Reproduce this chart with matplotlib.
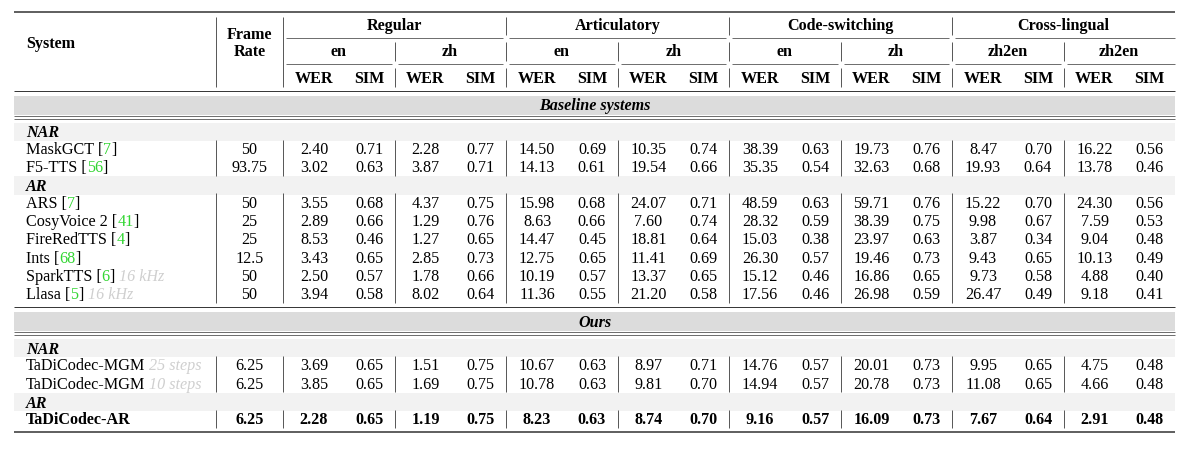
import matplotlib
matplotlib.use('Agg')
import matplotlib.pyplot as plt

plt.rcParams['font.family'] = ['Liberation Serif', 'DejaVu Serif']

# ---- table content ----
groups = ['Regular', 'Articulatory', 'Code-switching', 'Cross-lingual']
langs = ['en', 'zh', 'en', 'zh', 'en', 'zh', 'zh2en', 'zh2en']
metrics = ['WER', 'SIM']

base_nar_names = ['MaskGCT', 'F5-TTS']
base_nar_refs = ['7', '56']
base_nar_notes = ['', '']
base_nar_fr = [50, 93.75]
base_nar_vals = [
    [2.40, 0.71, 2.28, 0.77, 14.50, 0.69, 10.35, 0.74, 38.39, 0.63, 19.73, 0.76, 8.47, 0.70, 16.22, 0.56],
    [3.02, 0.63, 3.87, 0.71, 14.13, 0.61, 19.54, 0.66, 35.35, 0.54, 32.63, 0.68, 19.93, 0.64, 13.78, 0.46],
]

base_ar_names = ['ARS', 'CosyVoice 2', 'FireRedTTS', 'Ints', 'SparkTTS', 'Llasa']
base_ar_refs = ['7', '41', '4', '68', '6', '5']
base_ar_notes = ['', '', '', '', '16 kHz', '16 kHz']
base_ar_fr = [50, 25, 25, 12.5, 50, 50]
base_ar_vals = [
    [3.55, 0.68, 4.37, 0.75, 15.98, 0.68, 24.07, 0.71, 48.59, 0.63, 59.71, 0.76, 15.22, 0.70, 24.30, 0.56],
    [2.89, 0.66, 1.29, 0.76, 8.63, 0.66, 7.60, 0.74, 28.32, 0.59, 38.39, 0.75, 9.98, 0.67, 7.59, 0.53],
    [8.53, 0.46, 1.27, 0.65, 14.47, 0.45, 18.81, 0.64, 15.03, 0.38, 23.97, 0.63, 3.87, 0.34, 9.04, 0.48],
    [3.43, 0.65, 2.85, 0.73, 12.75, 0.65, 11.41, 0.69, 26.30, 0.57, 19.46, 0.73, 9.43, 0.65, 10.13, 0.49],
    [2.50, 0.57, 1.78, 0.66, 10.19, 0.57, 13.37, 0.65, 15.12, 0.46, 16.86, 0.65, 9.73, 0.58, 4.88, 0.40],
    [3.94, 0.58, 8.02, 0.64, 11.36, 0.55, 21.20, 0.58, 17.56, 0.46, 26.98, 0.59, 26.47, 0.49, 9.18, 0.41],
]

ours_nar_names = ['TaDiCodec-MGM', 'TaDiCodec-MGM']
ours_nar_refs = ['', '']
ours_nar_notes = ['25 steps', '10 steps']
ours_nar_fr = [6.25, 6.25]
ours_nar_vals = [
    [3.69, 0.65, 1.51, 0.75, 10.67, 0.63, 8.97, 0.71, 14.76, 0.57, 20.01, 0.73, 9.95, 0.65, 4.75, 0.48],
    [3.85, 0.65, 1.69, 0.75, 10.78, 0.63, 9.81, 0.70, 14.94, 0.57, 20.78, 0.73, 11.08, 0.65, 4.66, 0.48],
]

ours_ar_names = ['TaDiCodec-AR']
ours_ar_refs = ['']
ours_ar_notes = ['']
ours_ar_fr = [6.25]
ours_ar_vals = [
    [2.28, 0.65, 1.19, 0.75, 8.23, 0.63, 8.74, 0.70, 9.16, 0.57, 16.09, 0.73, 7.67, 0.64, 2.91, 0.48],
]

sections = [
    ('Baseline systems', [
        ('NAR', base_nar_names, base_nar_refs, base_nar_notes, base_nar_fr, base_nar_vals, False),
        ('AR', base_ar_names, base_ar_refs, base_ar_notes, base_ar_fr, base_ar_vals, False),
    ]),
    ('Ours', [
        ('NAR', ours_nar_names, ours_nar_refs, ours_nar_notes, ours_nar_fr, ours_nar_vals, False),
        ('AR', ours_ar_names, ours_ar_refs, ours_ar_notes, ours_ar_fr, ours_ar_vals, True),
    ]),
]

# ---- figure / geometry (pixel coordinates) ----
fig = plt.figure(figsize=(11.87, 4.49), dpi=100)
ax = fig.add_axes([0, 0, 1, 1])
ax.set_xlim(0, 1187)
ax.set_ylim(449, 0)
ax.axis('off')
renderer = fig.canvas.get_renderer()

fs = 11.6
base_off = 5.4          # baseline below visual centre
rule_c = '#333333'
vline_c = '#555555'
green = '#33d633'
gray_note = '#cfcfcf'

x_l, x_r = 14, 1175
x_sys_line, x_fr_line = 216, 283
x_sys = 26
x_fr = (x_sys_line + x_fr_line) / 2
sub_w = (x_r - x_fr_line) / 8
sub_starts = [x_fr_line + sub_w * k for k in range(8)]
col_x = []
for s in sub_starts:
    col_x += [s + 31, s + 86]
all_vlines = [x_sys_line, x_fr_line] + sub_starts[1:]


def txt(x, y, s, **kw):
    kw.setdefault('fontsize', fs)
    kw.setdefault('ha', 'center')
    return ax.text(x, y + base_off, s, va='baseline', **kw)


def hrule(y, x0=x_l, x1=x_r, lw=0.6):
    ax.plot([x0, x1], [y, y], color=rule_c, lw=lw, solid_capstyle='butt')


def vline(x, y0, y1):
    ax.plot([x, x], [y0, y1], color=vline_c, lw=0.7, solid_capstyle='butt')


def width_of(s, **kw):
    t = txt(0, 0, s, ha='left', **kw)
    w = t.get_window_extent(renderer).width
    t.remove()
    return w


def advance(s, **kw):
    # pen advance of s (extents are ink boxes, so fence it with bars)
    return width_of('|' + s + '|', **kw) - width_of('||', **kw)


def draw_name(y, name, ref, note, bold):
    w = 'bold' if bold else 'normal'
    full = name
    if ref:
        head = name + ' ['
        txt(x_sys, y, head, ha='left', fontweight=w)
        txt(x_sys + advance(head, fontweight=w), y, ref, ha='left', color=green)
        txt(x_sys + advance(head + ref, fontweight=w), y, ']', ha='left')
        full = head + ref + ']'
    else:
        txt(x_sys, y, name, ha='left', fontweight=w)
    if note:
        x = x_sys + advance(full + ' ', fontweight=w)
        txt(x, y, note, ha='left', color=gray_note, style='italic')


# ---- header ----
hrule(12, lw=1.1)
txt(x_sys, 43, 'System', ha='left', fontweight='bold')
txt(x_fr, 34, 'Frame', fontweight='bold')
txt(x_fr, 51, 'Rate', fontweight='bold')
for g, name in enumerate(groups):
    g0 = x_fr_line + 2 * sub_w * g
    txt(g0 + sub_w, 25, name, fontweight='bold')
    hrule(38, g0 + 3, g0 + 2 * sub_w - (0 if g == 3 else 3), lw=0.5)
for k, lang in enumerate(langs):
    s = sub_starts[k]
    txt(s + sub_w / 2, 51, lang, fontweight='bold')
    hrule(64, s + 3, s + sub_w - (0 if k == 7 else 3), lw=0.5)
    txt(s + 31, 78, metrics[0], fontweight='bold')
    txt(s + 86, 78, metrics[1], fontweight='bold')
vline(x_sys_line, 17, 87)
vline(x_fr_line, 17, 87)
for k in range(1, 8):
    x = sub_starts[k]
    if k % 2 == 0:
        vline(x, 17, 35)
    vline(x, 42, 61)
    vline(x, 68, 87)
hrule(91, lw=0.7)

# ---- body ----
rule_y = 91
for title, blocks in sections:
    band_top = rule_y + 5
    ax.fill_between([x_l, x_r], band_top, band_top + 18.5, color='#dcdcdc', lw=0)
    txt((x_l + x_r) / 2, band_top + 9, title, fontweight='bold', style='italic')
    d1 = band_top + 19.5
    hrule(d1, lw=0.5)
    hrule(d1 + 3, lw=0.5)
    sub_top = d1 + 7
    for label, names, refs, notes, frs, vals, bold in blocks:
        ax.fill_between([x_l, x_r], sub_top, sub_top + 18.5, color='#f2f2f2', lw=0)
        txt(x_sys, sub_top + 9.5, label, ha='left', fontweight='bold', style='italic')
        y = sub_top + 26
        first = y
        w = 'bold' if bold else 'normal'
        for i in range(len(names)):
            draw_name(y, names[i], refs[i], notes[i], bold)
            txt(x_fr, y, f'{frs[i]:g}', fontweight=w)
            for j, v in enumerate(vals[i]):
                txt(col_x[j], y, f'{v:.2f}', fontweight=w)
            last = y
            y += 18.3
        for x in all_vlines:
            vline(x, first - 9, last + 9)
        sub_top = last + 9.5
    rule_y = last + 13.5
    hrule(rule_y, lw=1.1 if title == 'Ours' else 0.7)

fig.savefig('out.png', dpi=100)
